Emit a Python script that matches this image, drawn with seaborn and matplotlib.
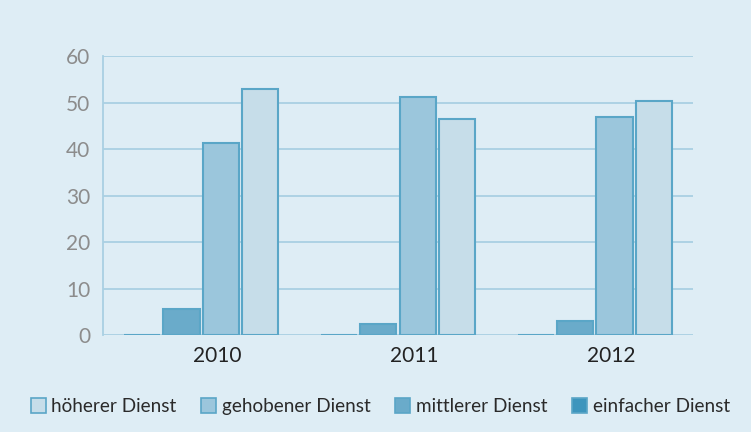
import numpy as np
import pandas as pd
import matplotlib
matplotlib.use("Agg")
import matplotlib.pyplot as plt
import matplotlib.transforms as mtransforms
import seaborn as sns
from matplotlib.patches import Patch

# data
years = ["2010", "2011", "2012"]
groups = ["einfacher Dienst", "mittlerer Dienst", "gehobener Dienst", "höherer Dienst"]
einfacher = [0.1, 0.1, 0.1]
mittlerer = [5.6, 2.4, 3.0]
gehobener = [41.3, 51.2, 46.9]
hoeherer = [52.9, 46.5, 50.3]

colors = {"einfacher Dienst": "#3d95bd", "mittlerer Dienst": "#6aabca",
          "gehobener Dienst": "#9bc6dc", "höherer Dienst": "#c6dde9"}
edge = "#5aa6c7"
bg = "#deedf5"
grid_c = "#a9d0e3"

df = pd.DataFrame({
    "Jahr": years * 4,
    "Gruppe": np.repeat(groups, len(years)),
    "Wert": einfacher + mittlerer + gehobener + hoeherer,
})

sns.set_theme(style="white")
plt.rcParams["font.family"] = ["Lato", "DejaVu Sans"]

fig = plt.figure(figsize=(7.51, 4.32), dpi=100, facecolor=bg)
ax = fig.add_axes([0.137, 0.2245, 0.786, 0.6455], facecolor=bg)

sns.barplot(data=df, x="Jahr", y="Wert", hue="Gruppe", order=years, hue_order=groups,
            palette=colors, saturation=1, width=0.8, gap=0.08, edgecolor=edge, linewidth=1.5,
            legend=False, ax=ax, zorder=3)

ax.set_ylim(0, 60)
ax.set_xlim(-0.5, 2.5)
ax.set_yticks(range(0, 61, 10))
ax.yaxis.grid(True, color=grid_c, linewidth=1.3, zorder=0)
ax.set_axisbelow(True)
for s in ["top", "right", "bottom"]:
    ax.spines[s].set_visible(False)
ax.spines["left"].set_color(grid_c)
ax.spines["left"].set_linewidth(1.3)
ax.tick_params(axis="y", length=0, pad=9, labelsize=15, labelcolor="#8c8c8c")
ax.tick_params(axis="x", length=0, pad=8, labelsize=15, labelcolor="#222222")
ax.set_xlabel("")
ax.set_ylabel("")

# year labels sit a bit right of the group centre in the original
shift = mtransforms.ScaledTranslation(16 / 100, 0, fig.dpi_scale_trans)
for lab in ax.get_xticklabels():
    lab.set_transform(lab.get_transform() + shift)

handles = [Patch(facecolor=colors[g], edgecolor=edge, linewidth=1.2, label=g) for g in groups[::-1]]
fig.legend(handles=handles, loc="lower left", bbox_to_anchor=(0.018, 0.0), ncol=4, frameon=False,
           fontsize=13.6, handlelength=0.8, handleheight=0.8, handletextpad=0.3, columnspacing=1.3,
           labelcolor="#2a2a2a")

fig.savefig("out.png", dpi=100, facecolor=bg)
